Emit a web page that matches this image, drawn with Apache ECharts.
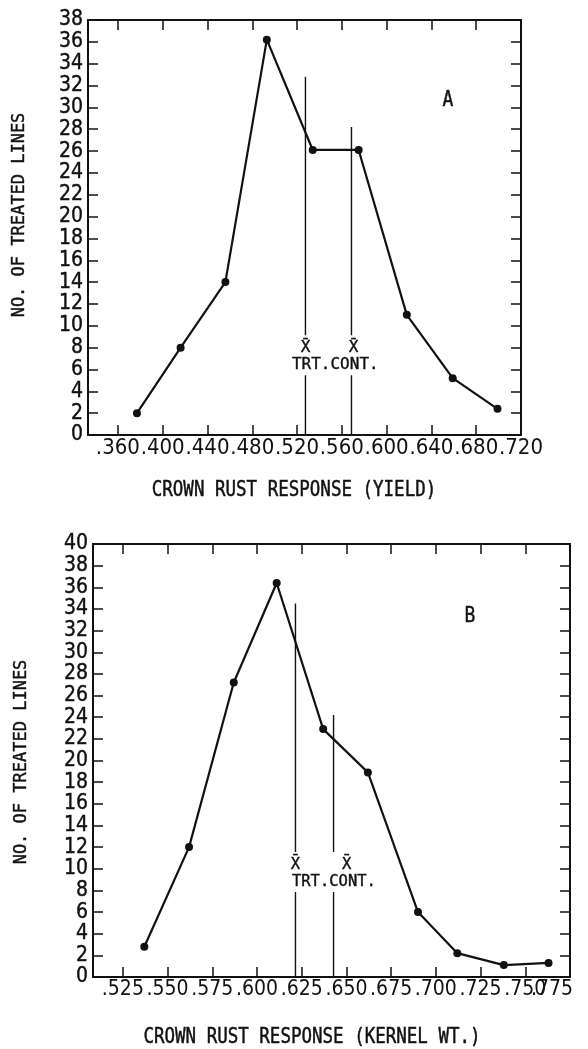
<!DOCTYPE html>
<html>
<head>
<meta charset="utf-8">
<script src="https://cdn.jsdelivr.net/npm/echarts@6/dist/echarts.min.js"></script>
<style>
html,body{margin:0;padding:0;background:#fff;}
#c{width:588px;height:1049px;}
</style>
</head>
<body>
<div id="c"></div>
<script>
// ---- Panel A data (crown rust response, yield) ----
const xA = [0.377, 0.416, 0.456, 0.493, 0.534, 0.575, 0.618, 0.659, 0.699];
const yA = [2, 8, 14, 36.2, 26.1, 26.1, 11, 5.2, 2.4];
const meanXA = [0.5275, 0.5686];      // TRT, CONT
const meanTopA = [32.8, 28.2];
const tickXA = [0.36, 0.40, 0.44, 0.48, 0.52, 0.56, 0.60, 0.64, 0.68];
const labelXA = [0.36, 0.40, 0.44, 0.48, 0.52, 0.56, 0.60, 0.64, 0.68, 0.72];

// ---- Panel B data (crown rust response, kernel wt.) ----
const xB = [0.537, 0.562, 0.587, 0.611, 0.637, 0.662, 0.690, 0.712, 0.738, 0.763];
const yB = [2.8, 12.0, 27.2, 36.4, 22.9, 18.9, 6.0, 2.2, 1.1, 1.3];
const meanXB = [0.6215, 0.6428];
const meanTopB = [34.5, 24.2];
const tickXB = [0.525, 0.550, 0.575, 0.600, 0.625, 0.650, 0.675, 0.700, 0.725, 0.750];
const labelXB = [0.525, 0.550, 0.575, 0.600, 0.625, 0.650, 0.675, 0.700, 0.725, 0.750];
const lastLabelXB = 0.775;   // drawn right-aligned at the axis end

const meanLabel = 'TRT.CONT.';
const titlesX = ['CROWN RUST RESPONSE (YIELD)', 'CROWN RUST RESPONSE (KERNEL WT.)'];
const titleY = 'NO. OF TREATED LINES';
const panelLetters = ['A', 'B'];

const TICKFONT = "'Liberation Sans Narrow','DejaVu Sans Condensed',sans-serif";
const MONO = "'DejaVu Sans Mono',monospace";
const K = '#111';

function fmt(v){ return v.toFixed(3).replace(/^0/, ''); }

function xAxes(grid, min, max, ticks, labels, fs){
  return [{
    gridIndex: grid, type: 'value', min: min, max: max, position: 'bottom',
    axisLine: {onZero:false, lineStyle:{color:K, width:2}},
    axisTick: {inside:true, length:10, customValues: ticks, lineStyle:{color:K, width:1.5}},
    axisLabel: {customValues: labels, formatter: fmt, margin: 2, color:K,
      fontFamily: TICKFONT, fontSize: fs,
      hideOverlap: false, showMinLabel: true, showMaxLabel: true, interval: 0},
    splitLine: {show:false}
  },{
    gridIndex: grid, type: 'value', min: min, max: max, position: 'top',
    axisLine: {onZero:false, lineStyle:{color:K, width:2}},
    axisTick: {inside:true, length:10, customValues: ticks, lineStyle:{color:K, width:1.5}},
    axisLabel: {show:false}, splitLine: {show:false}
  }];
}
function yAxes(grid, max){
  return [{
    gridIndex: grid, type:'value', min:0, max:max, interval:2, position:'left',
    axisLine:{show:true, onZero:false, lineStyle:{color:K, width:2}},
    axisTick:{show:true, inside:true, length:10, lineStyle:{color:K, width:1.5}},
    axisLabel:{margin:5, color:K, fontFamily:TICKFONT, fontSize:21,
      hideOverlap:false, showMinLabel:true, showMaxLabel:true,
      textBorderColor: K, textBorderWidth: 0.4},
    splitLine:{show:false}
  },{
    gridIndex: grid, type:'value', min:0, max:max, interval:2, position:'right',
    axisLine:{show:true, onZero:false, lineStyle:{color:K, width:2}},
    axisTick:{show:true, inside:true, length:10, lineStyle:{color:K, width:1.5}},
    axisLabel:{show:false}, splitLine:{show:false}
  }];
}
function zip(a,b){ return a.map((v,i)=>[v,b[i]]); }

const series = [];
function addPanel(xi, yi, xs, ys, mx, mt){
  series.push({type:'line', xAxisIndex:xi, yAxisIndex:yi, data:zip(xs,ys),
    symbol:'circle', symbolSize:8, itemStyle:{color:K}, lineStyle:{color:K, width:2.2},
    animation:false, z:3});
  mx.forEach((m,i)=>{
    series.push({type:'line', xAxisIndex:xi, yAxisIndex:yi, data:[[m,0],[m,mt[i]]],
      symbol:'none', lineStyle:{color:K, width:1.4}, animation:false, z:2});
  });
}
addPanel(0, 0, xA, yA, meanXA, meanTopA);
addPanel(2, 2, xB, yB, meanXB, meanTopB);

const chart = echarts.init(document.getElementById('c'), null, {renderer:'canvas'});
chart.setOption({
  animation:false,
  backgroundColor:'#fff',
  grid:[{left:88, top:20, width:433, height:415, outerBoundsMode:'none', containLabel:false},
        {left:93, top:544, width:477, height:433, outerBoundsMode:'none', containLabel:false}],
  xAxis:[...xAxes(0, 0.3333, 0.72, tickXA, labelXA, 22), ...xAxes(1, 0.5083, 0.775, tickXB, labelXB, 21)],
  yAxis:[...yAxes(0, 38), ...yAxes(1, 40)],
  series: series
});

// annotations: gap + X-bar labels on mean lines, panel letters, axis titles
const gfx = [];
const TXT = {fill:K, stroke:K, lineWidth:0.4};
function annotate(gridIndex, mx, yMid, textDx, barDx, fs){
  const px = mx.map(m => chart.convertToPixel({gridIndex:gridIndex}, [m, yMid]));
  px.forEach((p,i)=>{
    gfx.push({type:'rect', shape:{x:p[0]-4, y:p[1]-20, width:8, height:40}, style:{fill:'#fff'}, z:50});
    gfx.push({type:'text', x:p[0]+barDx[i], y:p[1]-7, style:Object.assign({text:'X\u0304', font:fs+'px '+MONO, align:'center', verticalAlign:'middle'}, TXT), z:51});
  });
  gfx.push({type:'text', x:px[0][0]+textDx, y:px[0][1]+10, style:Object.assign({text:meanLabel, font:fs+'px '+MONO, align:'left', verticalAlign:'middle'}, TXT), z:51});
}
annotate(0, meanXA, 7.3, -13.5, [0, 2], 16);
annotate(1, meanXB, 9.7, -3.5, [0, 13], 15.5);

// last tick label of panel B, right-aligned at the end of the axis
const pEnd = chart.convertToPixel({gridIndex:1}, [lastLabelXB, 0]);
gfx.push({type:'text', x:pEnd[0]+3, y:pEnd[1]+2,
  style:{text:fmt(lastLabelXB), font:"21px "+TICKFONT, fill:K, align:'right', verticalAlign:'top'}});

function txt(x, y, s, font, extra){
  return Object.assign({type:'text', x:x, y:y, style:Object.assign({text:s, font:font, align:'center', verticalAlign:'middle'}, TXT)}, extra||{});
}
gfx.push(txt(448, 100, panelLetters[0], '18px '+MONO, {scaleY:1.2}));
gfx.push(txt(470, 616, panelLetters[1], '18px '+MONO, {scaleY:1.2}));
gfx.push(txt(294, 490, titlesX[0], '17.5px '+MONO, {scaleY:1.25}));
gfx.push(txt(312, 1037, titlesX[1], '17.5px '+MONO, {scaleY:1.25}));
gfx.push(txt(20, 215, titleY, '17px '+MONO, {rotation:Math.PI/2}));
gfx.push(txt(22, 762, titleY, '17px '+MONO, {rotation:Math.PI/2}));
chart.setOption({graphic: gfx});
</script>
</body>
</html>
